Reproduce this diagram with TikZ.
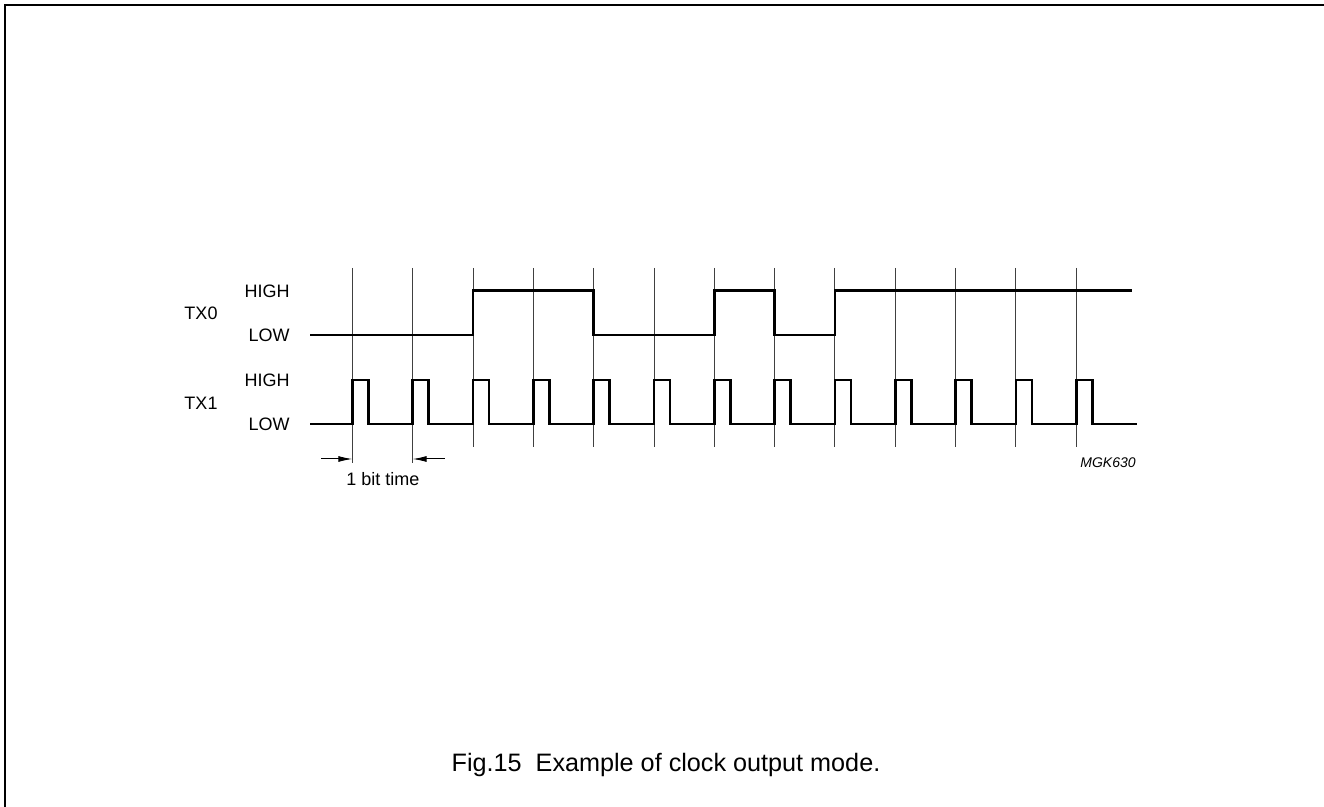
\documentclass[tikz,border=0pt]{standalone}
\usepackage{fontspec}
\setmainfont{Liberation Sans}
\usetikzlibrary{arrows.meta,calc,positioning}

\begin{document}
\begin{tikzpicture}[x=0.5pt, y=-0.5pt, >={Latex[length=7pt,width=3pt]},
    signal/.style={line width=1.3pt, line join=miter},
    gridline/.style={line width=0.45pt, black!75},
    lbl/.style={font=\fontsize{9}{10}\selectfont, inner sep=0pt},
    bittime/.style={line width=0.5pt, ->}]
  \useasboundingbox (0,0) rectangle (1324,807);
  % frame
  \draw[line width=1pt] (4.5,807) -- (4.5,5.5) -- (1324,5.5);

  % bit boundaries
  \foreach \i in {0,...,12}
    \coordinate (t\i) at ({352.3+60.33*\i},268);
  \foreach \i in {2,...,12}
    \draw[gridline] (t\i) -- ++(0,179);
  \draw[gridline] (t0) -- ++(0,195);
  \draw[gridline] (t1) -- ++(0,195);

  % TX0
  \node[lbl, anchor=east] (tx0high) at (290,291) {HIGH};
  \node[lbl, anchor=east] (tx0low)  at (290,335) {LOW};
  \node[lbl] (tx0) at (201,313) {TX0};
  \draw[signal] (310,335) -| ($(t2)+(0,22.7)$) -| ($(t4)+(0,67)$) -| ($(t6)+(0,22.7)$)
                -| ($(t7)+(0,67)$) -| ($(t8)+(0,22.7)$) -- (1132,290.7);

  % TX1
  \node[lbl, anchor=east] (tx1high) at (290,380) {HIGH};
  \node[lbl, anchor=east] (tx1low)  at (290,424) {LOW};
  \node[lbl] (tx1) at (201,403) {TX1};
  \draw[signal] (310,424)
    \foreach \i in {0,...,12} { -- ({352.3+60.33*\i},424) -- ++(0,-44) -- ++(16,0) -- ++(0,44) }
    -- (1137,424);

  % 1 bit time
  \coordinate (b0) at ($(t0)+(0,191)$);
  \coordinate (b1) at ($(t1)+(0,191)$);
  \draw[bittime] (b0) ++(-31,0) -- (b0);
  \draw[bittime] (b1) ++(32,0) -- (b1);
  \node[lbl] (bit) at (383,479) {1 bit time};

  \node[font=\fontsize{7}{8}\selectfont\itshape, inner sep=0pt, anchor=east] (code) at (1136,463) {MGK630};

  \node[font=\fontsize{12.6}{14}\selectfont, inner sep=0pt] (caption) at (666,765) {Fig.15~~Example of clock output mode.};
\end{tikzpicture}
\end{document}
